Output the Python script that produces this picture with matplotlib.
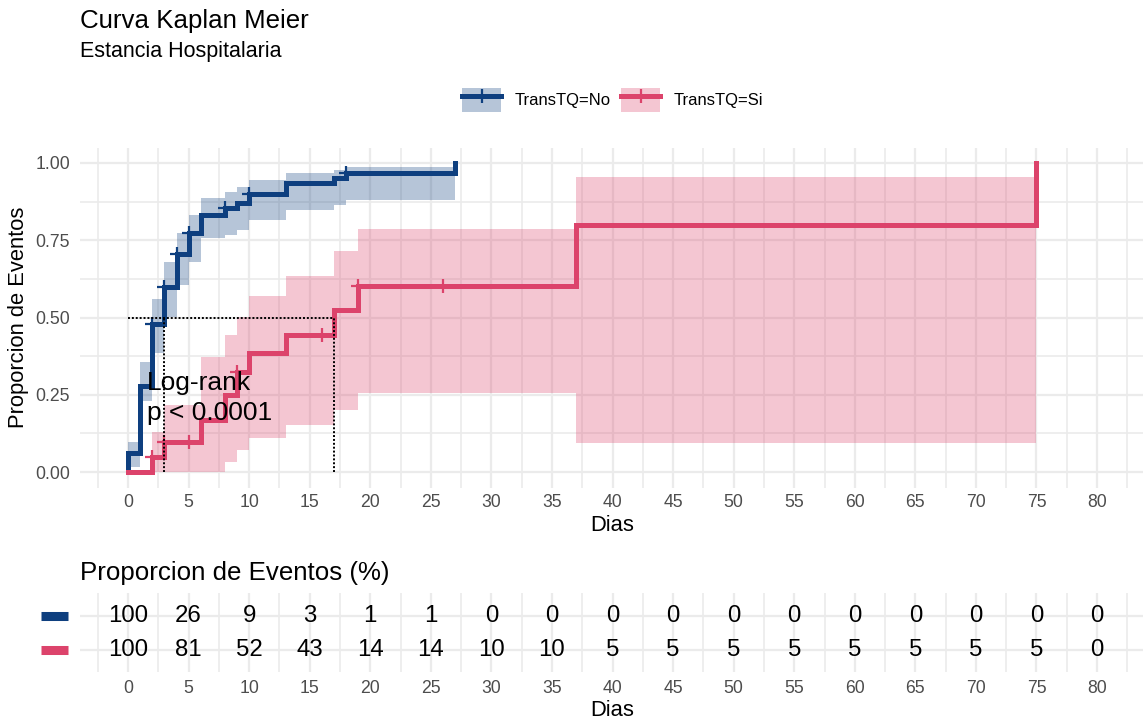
"""
Kaplan-Meier cumulative event curves with risk table
"""
import numpy as np
import matplotlib.pyplot as plt
from matplotlib.lines import Line2D
from matplotlib.patches import Patch
from matplotlib.legend_handler import HandlerTuple
import matplotlib.transforms as mtransforms

plt.rcParams['font.family'] = ['Liberation Sans', 'DejaVu Sans']

# Group "No": event times, cumulative event proportion and 95% band
no_times = [0, 1, 2, 3, 4, 5, 6, 8, 9, 10, 13, 17, 18, 27]
no_event = [0.061, 0.28, 0.48, 0.60, 0.705, 0.775, 0.832, 0.853, 0.87, 0.90, 0.934, 0.95, 0.967, 1.0]
no_lower = [0.017, 0.23, 0.384, 0.503, 0.605, 0.68, 0.756, 0.767, 0.783, 0.816, 0.848, 0.864, 0.880, 1.0]
no_upper = [0.098, 0.357, 0.559, 0.68, 0.772, 0.832, 0.886, 0.907, 0.923, 0.945, 0.967, 0.977, 0.988, 1.0]
no_censor = [2, 3, 4, 5, 8, 10, 18]

# Group "Si"
si_times = [2, 3, 6, 8, 9, 10, 13, 17, 19, 37, 75]
si_event = [0.048, 0.098, 0.17, 0.25, 0.325, 0.384, 0.443, 0.524, 0.602, 0.80, 1.0]
si_lower = [0.0, 0.0, 0.0, 0.033, 0.071, 0.109, 0.152, 0.20, 0.256, 0.095, 1.0]
si_upper = [0.13, 0.217, 0.373, 0.443, 0.503, 0.570, 0.634, 0.714, 0.786, 0.954, 1.0]
si_censor = [2, 3, 5, 9, 16, 19, 26]

# Risk table (% at each time point)
table_times = list(range(0, 85, 5))
no_table = [100, 26, 9, 3, 1, 1, 0, 0, 0, 0, 0, 0, 0, 0, 0, 0, 0]
si_table = [100, 81, 52, 43, 14, 14, 10, 10, 5, 5, 5, 5, 5, 5, 5, 5, 0]

y_ticks = [0, 0.25, 0.5, 0.75, 1.0]
y_ticklabels = ['0.00', '0.25', '0.50', '0.75', '1.00']

blue = '#0E3F7F'
red = '#DC436B'
grid_col = '#EBEBEB'
tick_col = '#4D4D4D'
line_w = 3.6

W, H = 1143, 721
fig = plt.figure(figsize=(W / 100, H / 100), dpi=100)

# main panel and risk table panel share the same x scale
ax = fig.add_axes([79.6 / W, 1 - 487.5 / H, (1145.5 - 79.6) / W, 340 / H])
ax_tab = fig.add_axes([79.6 / W, 1 - 672 / H, (1145.5 - 79.6) / W, 79 / H])


def step_value(times, vals, t):
    idx = np.searchsorted(times, t, side='right') - 1
    return np.where(idx >= 0, np.asarray(vals)[np.clip(idx, 0, None)], 0.0)


def style_grid(a):
    a.set_xticks(np.arange(0, 85, 5))
    a.set_xticks(np.arange(-2.5, 85, 5), minor=True)
    a.grid(which='major', color=grid_col, lw=1.6)
    a.grid(which='minor', color=grid_col, lw=1.2)
    a.set_axisbelow(True)
    for s in a.spines.values():
        s.set_visible(False)
    a.tick_params(which='both', length=0, colors=tick_col, labelsize=12.7)
    a.set_xlim(-4, 84)


style_grid(ax)
ax.set_yticks(y_ticks)
ax.set_yticklabels(y_ticklabels)
ax.set_yticks(np.arange(0.125, 1.0, 0.25), minor=True)
ax.set_ylim(-0.05, 1.05)
ax.tick_params(axis='x', pad=4.5)
ax.tick_params(axis='y', pad=7)

groups = [
    (no_times, no_event, no_lower, no_upper, no_censor, blue),
    (si_times, si_event, si_lower, si_upper, si_censor, red),
]
for times, ev, lo, up, cens, col in groups:
    ax.fill_between(times, lo, up, step='post', color=col, alpha=0.3, lw=0)
    ax.step(np.r_[0, times], np.r_[0, ev], where='post', color=col, lw=line_w,
            solid_joinstyle='miter')
    ax.plot(cens, step_value(times, ev, cens), ls='none', marker='+',
            ms=10, mew=1.6, color=col)

# median lines
medians = []
for times, ev, *_ in groups:
    medians.append(times[int(np.argmax(np.asarray(ev) >= 0.5))])
dot = dict(color='black', lw=1.4, ls=(0, (1, 1)), zorder=5)
ax.plot([0, max(medians)], [0.5, 0.5], **dot)
for m in medians:
    ax.plot([m, m], [0, 0.5], **dot)

ax.text(1.55, 0.264, 'Log-rank', fontsize=19, va='baseline', ha='left')
ax.text(1.55, 0.167, 'p < 0.0001', fontsize=19, va='baseline', ha='left')

ax.set_xlabel('Dias', fontsize=15.8, labelpad=3)
ax.set_ylabel('Proporcion de Eventos', fontsize=15.8, labelpad=4)

# legend: band square with the line and censor mark on top
handles = [
    (Patch(facecolor=blue, alpha=0.3, lw=0),
     Line2D([], [], color=blue, lw=line_w, marker='+', ms=10, mew=1.6)),
    (Patch(facecolor=red, alpha=0.3, lw=0),
     Line2D([], [], color=red, lw=line_w, marker='+', ms=10, mew=1.6)),
]
fig.legend(handles, ['TransTQ=No', 'TransTQ=Si'], loc='center',
           bbox_to_anchor=(612.5 / W, 1 - 100 / H), ncol=2, frameon=False,
           fontsize=12, handlelength=2.34, handleheight=1.92,
           handletextpad=0.78, columnspacing=0.66, borderpad=0,
           handler_map={tuple: HandlerTuple(ndivide=1, pad=0)})

fig.text(80 / W, 1 - 28 / H, 'Curva Kaplan Meier', fontsize=18.6, va='baseline')
fig.text(80 / W, 1 - 57 / H, 'Estancia Hospitalaria', fontsize=15.5, va='baseline')

# risk table
style_grid(ax_tab)
ax_tab.set_ylim(0.36, 2.66)
ax_tab.set_yticks([1, 2])
ax_tab.set_yticklabels([])
ax_tab.tick_params(axis='x', pad=6)
for row, vals in [(2, no_table), (1, si_table)]:
    for t, v in zip(table_times, vals):
        ax_tab.text(t, row, str(v), fontsize=17.3, ha='center', va='center')
ax_tab.set_xlabel('Dias', fontsize=15.8, labelpad=2)

bt = mtransforms.blended_transform_factory(fig.transFigure, ax_tab.transData)
for row, col in [(2, blue), (1, red)]:
    fig.add_artist(Line2D([41 / W, 68 / W], [row, row], transform=bt, color=col,
                          lw=6.5, solid_capstyle='butt'))

fig.text(80 / W, 1 - 580 / H, 'Proporcion de Eventos (%)', fontsize=18.6,
         va='baseline')

fig.savefig('out.png', dpi=100, facecolor='white')
